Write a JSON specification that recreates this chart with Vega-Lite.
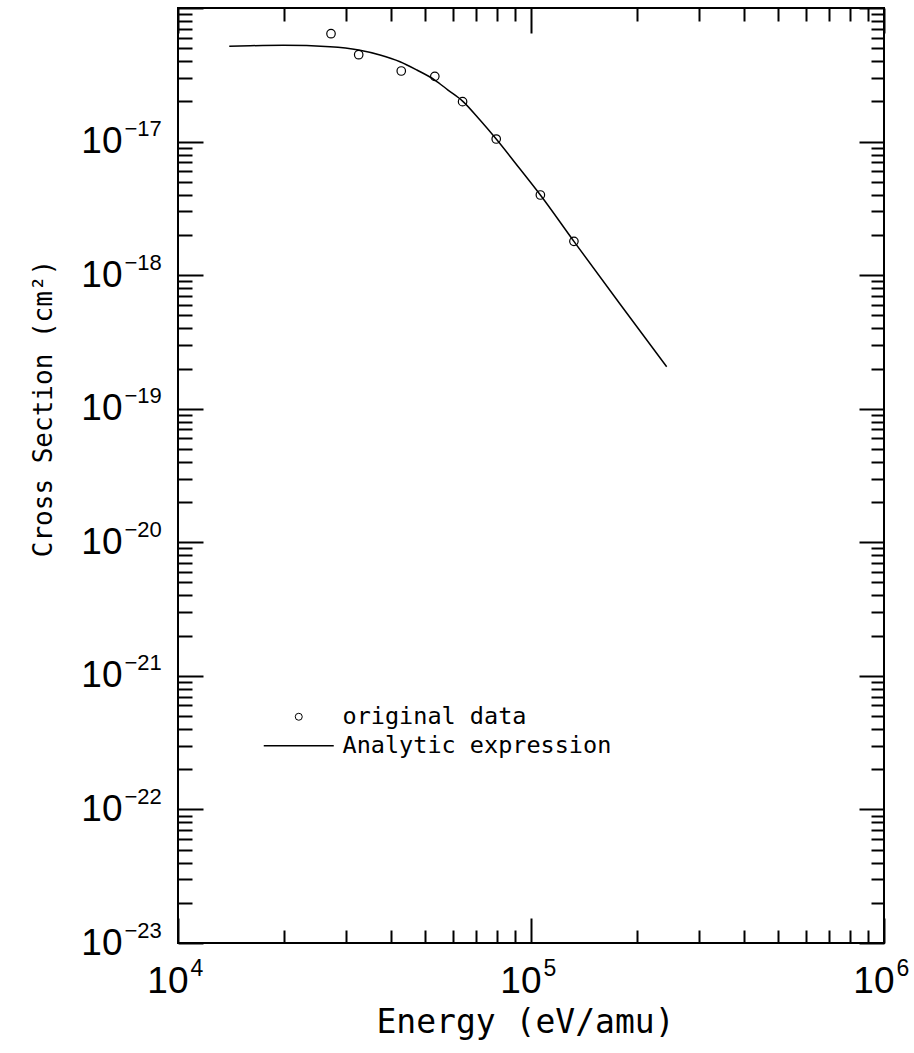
{
  "$schema": "https://vega.github.io/schema/vega-lite/v6.json",
  "width": 706,
  "height": 935,
  "autosize": "none",
  "padding": {"left": 178, "top": 8, "right": 30, "bottom": 110},
  "background": "white",
  "datasets": {
    "curve": [
      {"E": 13970, "sigma": 5.17e-17, "series": "Analytic expression"},
      {"E": 16000, "sigma": 5.22e-17, "series": "Analytic expression"},
      {"E": 19880, "sigma": 5.26e-17, "series": "Analytic expression"},
      {"E": 26960, "sigma": 5.13e-17, "series": "Analytic expression"},
      {"E": 32500, "sigma": 4.85e-17, "series": "Analytic expression"},
      {"E": 37350, "sigma": 4.45e-17, "series": "Analytic expression"},
      {"E": 42550, "sigma": 3.96e-17, "series": "Analytic expression"},
      {"E": 47500, "sigma": 3.435e-17, "series": "Analytic expression"},
      {"E": 53400, "sigma": 2.89e-17, "series": "Analytic expression"},
      {"E": 58200, "sigma": 2.43e-17, "series": "Analytic expression"},
      {"E": 64000, "sigma": 2.01e-17, "series": "Analytic expression"},
      {"E": 71700, "sigma": 1.45e-17, "series": "Analytic expression"},
      {"E": 79700, "sigma": 1.045e-17, "series": "Analytic expression"},
      {"E": 93100, "sigma": 6.23e-18, "series": "Analytic expression"},
      {"E": 106300, "sigma": 3.98e-18, "series": "Analytic expression"},
      {"E": 132300, "sigma": 1.79e-18, "series": "Analytic expression"},
      {"E": 178700, "sigma": 6.08e-19, "series": "Analytic expression"},
      {"E": 242300, "sigma": 2.06e-19, "series": "Analytic expression"}
    ],
    "obs": [
      {"E": 27130, "sigma": 6.42e-17, "series": "original data"},
      {"E": 32500, "sigma": 4.47e-17, "series": "original data"},
      {"E": 42900, "sigma": 3.375e-17, "series": "original data"},
      {"E": 53400, "sigma": 3.08e-17, "series": "original data"},
      {"E": 64000, "sigma": 1.99e-17, "series": "original data"},
      {"E": 79700, "sigma": 1.045e-17, "series": "original data"},
      {"E": 106300, "sigma": 3.98e-18, "series": "original data"},
      {"E": 132300, "sigma": 1.79e-18, "series": "original data"}
    ]
  },
  "layer": [
    {
      "data": {"name": "curve"},
      "mark": {"type": "line", "strokeWidth": 1.5, "interpolate": "monotone"},
      "encoding": {
        "x": {
          "field": "E", "type": "quantitative",
          "scale": {"type": "log", "domain": [10000, 1000000], "nice": false},
          "axis": {
            "orient": "bottom",
            "values": [10000, 20000, 30000, 40000, 50000, 60000, 70000, 80000, 90000, 100000, 200000, 300000, 400000, 500000, 600000, 700000, 800000, 900000, 1000000],
            "tickSize": {"condition": {"test": "abs(log(datum.value)/LN10-round(log(datum.value)/LN10))<0.001", "value": -25}, "value": -13},
            "labelExpr": "abs(log(datum.value)/LN10-round(log(datum.value)/LN10))<0.001 ? '10' : ''",
            "labelFont": "Liberation Sans",
            "labelFontSize": 37,
            "labelAlign": "right",
            "labelBaseline": "alphabetic",
            "labelOffset": 10,
            "labelPadding": 74,
            "labelFlush": false,
            "labelOverlap": false,
            "labelBound": false,
            "title": "Energy (eV/amu)",
            "titleFont": "DejaVu Sans Mono",
            "titleFontSize": 33,
            "titleFontWeight": "normal",
            "titleX": 347,
            "titleY": 89,
            "titleBaseline": "alphabetic"
          }
        },
        "y": {
          "field": "sigma", "type": "quantitative",
          "scale": {"type": "log", "domain": [1e-23, 1e-16], "nice": false},
          "axis": {
            "orient": "left",
            "values": [1e-23, 2e-23, 3e-23, 4e-23, 5e-23, 6e-23, 7e-23, 8e-23, 9e-23, 1e-22, 2e-22, 3e-22, 4e-22, 5e-22, 6e-22, 7e-22, 8e-22, 9e-22, 1e-21, 2e-21, 3e-21, 4e-21, 5e-21, 6e-21, 7e-21, 8e-21, 9e-21, 1e-20, 2e-20, 3e-20, 4e-20, 5e-20, 6e-20, 7e-20, 8e-20, 9e-20, 1e-19, 2e-19, 3e-19, 4e-19, 5e-19, 6e-19, 7e-19, 8e-19, 9e-19, 1e-18, 2e-18, 3e-18, 4e-18, 5e-18, 6e-18, 7e-18, 8e-18, 9e-18, 1e-17, 2e-17, 3e-17, 4e-17, 5e-17, 6e-17, 7e-17, 8e-17, 9e-17, 1e-16],
            "tickSize": {"condition": {"test": "abs(log(datum.value)/LN10-round(log(datum.value)/LN10))<0.001", "value": -25}, "value": -14},
            "labelExpr": "abs(log(datum.value)/LN10-round(log(datum.value)/LN10))<0.001 && datum.value < 5e-17 ? '10' : ''",
            "labelFont": "Liberation Sans",
            "labelFontSize": 37,
            "labelAlign": "right",
            "labelBaseline": "alphabetic",
            "labelOffset": 11,
            "labelPadding": 81,
            "labelOverlap": false,
            "labelBound": false,
            "labelFlush": false,
            "title": "Cross Section (cm²)",
            "titleFont": "DejaVu Sans Mono",
            "titleFontSize": 26,
            "titleFontWeight": "normal",
            "titleX": -127,
            "titleY": 400,
            "titleBaseline": "alphabetic"
          }
        },
        "color": {
          "field": "series", "type": "nominal",
          "scale": {"domain": ["original data", "Analytic expression"], "range": ["black", "black"]},
          "legend": {
            "orient": "none",
            "legendX": 109,
            "legendY": 697,
            "title": null,
            "padding": 0,
            "labelFont": "DejaVu Sans Mono",
            "labelFontSize": 23.5,
            "labelColor": "black",
            "labelLimit": 0,
            "labelOffset": 32,
            "symbolType": "stroke",
            "symbolSize": 4900,
            "symbolStrokeWidth": 1.5,
            "rowPadding": 4,
            "encode": {
              "symbols": {
                "update": {
                  "shape": {"signal": "datum.value === 'original data' ? 'circle' : 'stroke'"},
                  "size": {"signal": "datum.value === 'original data' ? 49 : 4900"},
                  "fill": {"value": "transparent"},
                  "stroke": {"value": "black"},
                  "strokeWidth": {"signal": "datum.value === 'original data' ? 1 : 1.5"},
                  "opacity": {"value": 1}
                }
              }
            }
          }
        }
      }
    },
    {
      "data": {"name": "obs"},
      "mark": {"type": "point", "shape": "circle", "filled": false, "size": 72, "strokeWidth": 1.2, "opacity": 1},
      "encoding": {
        "x": {
          "field": "E", "type": "quantitative",
          "scale": {"type": "log", "domain": [10000, 1000000], "nice": false},
          "axis": {
            "orient": "top",
            "values": [10000, 20000, 30000, 40000, 50000, 60000, 70000, 80000, 90000, 100000, 200000, 300000, 400000, 500000, 600000, 700000, 800000, 900000, 1000000],
            "tickSize": {"condition": {"test": "abs(log(datum.value)/LN10-round(log(datum.value)/LN10))<0.001", "value": -25}, "value": -13},
            "labels": false,
            "title": null
          }
        },
        "y": {
          "field": "sigma", "type": "quantitative",
          "scale": {"type": "log", "domain": [1e-23, 1e-16], "nice": false},
          "axis": {
            "orient": "right",
            "values": [1e-23, 2e-23, 3e-23, 4e-23, 5e-23, 6e-23, 7e-23, 8e-23, 9e-23, 1e-22, 2e-22, 3e-22, 4e-22, 5e-22, 6e-22, 7e-22, 8e-22, 9e-22, 1e-21, 2e-21, 3e-21, 4e-21, 5e-21, 6e-21, 7e-21, 8e-21, 9e-21, 1e-20, 2e-20, 3e-20, 4e-20, 5e-20, 6e-20, 7e-20, 8e-20, 9e-20, 1e-19, 2e-19, 3e-19, 4e-19, 5e-19, 6e-19, 7e-19, 8e-19, 9e-19, 1e-18, 2e-18, 3e-18, 4e-18, 5e-18, 6e-18, 7e-18, 8e-18, 9e-18, 1e-17, 2e-17, 3e-17, 4e-17, 5e-17, 6e-17, 7e-17, 8e-17, 9e-17, 1e-16],
            "tickSize": {"condition": {"test": "abs(log(datum.value)/LN10-round(log(datum.value)/LN10))<0.001", "value": -25}, "value": -13},
            "labels": false,
            "title": null
          }
        },
        "color": {
          "field": "series", "type": "nominal",
          "scale": {"domain": ["original data", "Analytic expression"], "range": ["black", "black"]}
        }
      }
    },
    {
      "data": {"name": "obs"},
      "mark": {"type": "point", "opacity": 0},
      "encoding": {
        "x": {
          "field": "E", "type": "quantitative",
          "scale": {"type": "log", "domain": [10000, 1000000], "nice": false},
          "axis": {
            "orient": "bottom",
            "values": [10000, 100000, 1000000],
            "ticks": false,
            "labelExpr": "replace(''+round(log(datum.value)/LN10),'-','−')",
            "labelFont": "Liberation Sans",
            "labelFontSize": 23,
            "labelAlign": "left",
            "labelBaseline": "alphabetic",
            "labelOffset": 12,
            "labelPadding": 32,
            "labelFlush": false,
            "labelOverlap": false,
            "labelBound": false,
            "title": null
          }
        },
        "y": {
          "field": "sigma", "type": "quantitative",
          "scale": {"type": "log", "domain": [1e-23, 1e-16], "nice": false},
          "axis": {
            "orient": "left",
            "values": [1e-23, 1e-22, 1e-21, 1e-20, 1e-19, 1e-18, 1e-17],
            "ticks": false,
            "labelExpr": "replace(''+round(log(datum.value)/LN10),'-','−')",
            "labelFont": "Liberation Sans",
            "labelFontSize": 22,
            "labelAlign": "left",
            "labelBaseline": "alphabetic",
            "labelOffset": -6,
            "labelPadding": 54,
            "labelFlush": false,
            "labelOverlap": false,
            "labelBound": false,
            "title": null
          }
        }
      }
    }
  ],
  "resolve": {"axis": {"x": "independent", "y": "independent"}},
  "config": {
    "view": {"stroke": "black", "strokeWidth": 2},
    "axis": {"grid": false, "domain": false, "tickColor": "black", "tickWidth": 2, "labelColor": "black", "titleColor": "black"}
  }
}
